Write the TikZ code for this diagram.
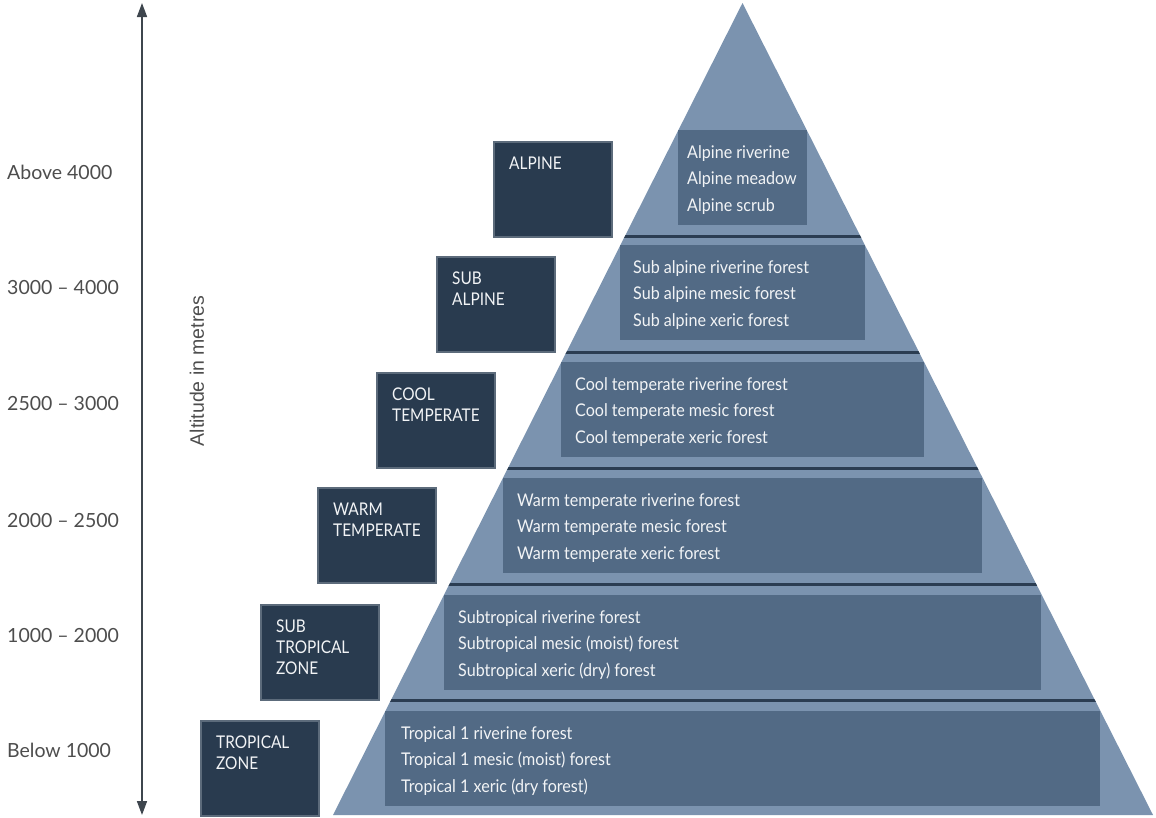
\documentclass[tikz,border=0pt]{standalone}
\usepackage{fontspec}
\setmainfont{Lato}
\newfontfamily\futf[FakeStretch=0.92]{Lato}
\newfontfamily\zonef[FakeStretch=0.88]{Lato}
\newfontfamily\arialf{Liberation Sans}
\usetikzlibrary{arrows.meta}
\definecolor{pyrcol}{HTML}{7B93AF}
\definecolor{innercol}{HTML}{526A85}
\definecolor{darkcol}{HTML}{293B4F}
\definecolor{bordercol}{HTML}{5C6B7B}
\definecolor{divcol}{HTML}{2B3D52}
\definecolor{arrowcol}{HTML}{3E464E}
\definecolor{lblgray}{HTML}{4D4D4D}
\definecolor{txtwhite}{HTML}{F2F4F6}
\begin{document}
\begin{tikzpicture}[x=1pt,y=-1pt,
  pyr/.style={fill=pyrcol},
  divider/.style={draw=divcol,line width=3pt},
  innerbox/.style={fill=innercol},
  zonebox/.style={fill=darkcol,draw=bordercol,line width=1.5pt,inner sep=0pt,
    minimum width=118pt,minimum height=95pt,anchor=north west},
  intext/.style={anchor=base west,inner sep=0pt,text=txtwhite,font=\futf\fontsize{17.5}{20}\selectfont},
  zonetext/.style={anchor=north west,inner sep=0pt,align=left,text=txtwhite,font=\zonef\fontsize{17.5}{21}\selectfont},
  lbl/.style={anchor=base west,inner sep=0pt,text=lblgray,font=\fontsize{19.5}{22}\selectfont},
  axis/.style={draw=arrowcol,line width=1.6pt,{Triangle[length=14pt,width=10pt]}-{Triangle[length=14pt,width=10pt]}}
]
\useasboundingbox (0,0) rectangle (1156,817);
% pyramid
\coordinate (apex) at (742.5,3);
\coordinate (bl) at (333,815);
\coordinate (br) at (1153,815);
\fill[pyr] (apex) -- (bl) -- (br) -- cycle;
\begin{scope}
\clip (apex) -- (bl) -- (br) -- cycle;
\foreach \d in {236,352,468,584,700}{
  \draw[divider] (300,\d) -- (1160,\d);
}
\foreach \i/\l/\r/\t in {1/678.4/806.6/130,2/620.3/864.7/245,3/561.2/923.8/362,4/502.7/982.3/478,5/443.6/1041.4/595,6/385/1100/711}{
  \fill[innerbox] (\l,\t) rectangle (\r,{\t+95});
}
\end{scope}
% inner texts
\foreach \i/\x/\t/\la/\lb/\lc in {
  1/687/130/Alpine riverine/Alpine meadow/Alpine scrub,
  2/633/245/Sub alpine riverine forest/Sub alpine mesic forest/Sub alpine xeric forest,
  3/575/362/Cool temperate riverine forest/Cool temperate mesic forest/Cool temperate xeric forest,
  4/517/478/Warm temperate riverine forest/Warm temperate mesic forest/Warm temperate xeric forest,
  5/458/595/Subtropical riverine forest/Subtropical mesic (moist) forest/Subtropical xeric (dry) forest,
  6/401/711/Tropical 1 riverine forest/Tropical 1 mesic (moist) forest/Tropical 1 xeric (dry forest)}{
  \node[intext] (in\i a) at (\x,{\t+28}) {\la};
  \node[intext] (in\i b) at (\x,{\t+54.5}) {\lb};
  \node[intext] (in\i c) at (\x,{\t+81}) {\lc};
}
% zone boxes
\foreach \i/\x/\t/\txt in {
  1/493/141/{ALPINE},
  2/436/256/{SUB\\ALPINE},
  3/376/372/{COOL\\TEMPERATE},
  4/317/487/{WARM\\TEMPERATE},
  5/260/604/{SUB\\TROPICAL\\ZONE},
  6/200/720/{TROPICAL\\ZONE}}{
  \node[zonebox] (z\i) at (\x,\t) {};
  \node[zonetext] (zt\i) at ({\x+16},{\t+15.5}) {\txt};
}
% altitude labels
\foreach \i/\y/\txt in {1/172/Above 4000,2/287/3000 – 4000,3/403/2500 – 3000,4/520/2000 – 2500,5/635/1000 – 2000,6/750/Below 1000}{
  \node[lbl] (l\i) at (7,{\y+7}) {\txt};
}
% axis
\coordinate (atop) at (142,3);
\coordinate (abot) at (142,815);
\draw[axis] (atop) -- (abot);
\node[rotate=90,text=lblgray,font=\arialf\fontsize{19.5}{22}\selectfont,inner sep=0pt] (alt) at (197,371) {Altitude in metres};
\end{tikzpicture}
\end{document}
